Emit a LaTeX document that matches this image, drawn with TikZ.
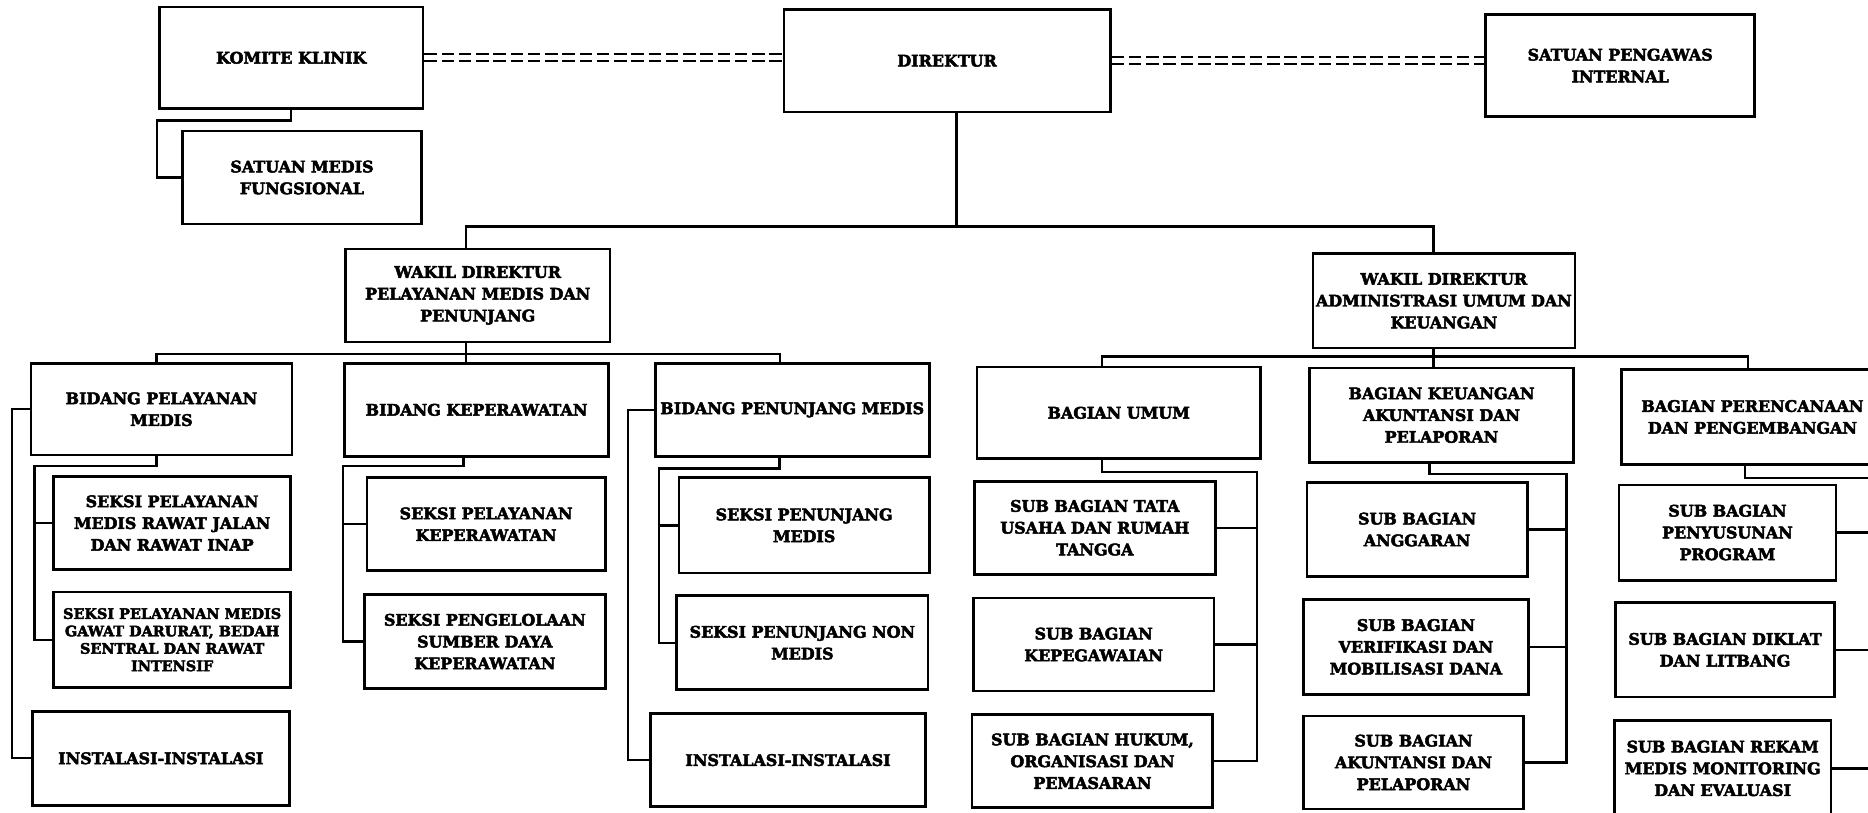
\documentclass[tikz,border=0pt]{standalone}
\usepackage{fontspec}
\setmainfont{DejaVu Serif}[BoldFeatures={FakeBold=3}]
\tikzset{sz/.style 2 args={minimum width=#1*0.025cm, minimum height=#2*0.025cm}}

\begin{document}
\begin{tikzpicture}[x=0.025cm, y=-0.025cm, line width=1.4pt]
    \tikzstyle{unit}=[draw=black, line width=1.6pt, fill=white, align=center, inner sep=1pt, font=\bfseries\fontsize{9.5}{13}\selectfont]
    \tikzstyle{tiny}=[font=\bfseries\fontsize{8.6}{10.4}\selectfont]
    \tikzstyle{link}=[double, line width=1.1pt, double distance=3pt, dash pattern=on 7.5pt off 2.8pt]

    \useasboundingbox (0,0) rectangle (1568,682);
    \clip (0,0) rectangle (1568,682);

    % top level
    \node[unit, sz={221}{85}] (kk)  at (244.5,48.5) {KOMITE KLINIK};
    \node[unit, sz={201}{78}] (smf) at (253.5,149)  {SATUAN MEDIS\\FUNGSIONAL};
    \node[unit, sz={274}{86}] (dir) at (795,51)     {DIREKTUR};
    \node[unit, sz={226}{86}] (spi) at (1360,55)    {SATUAN PENGAWAS\\INTERNAL};

    \node[unit, sz={222}{78}] (wpel) at (401,248)    {WAKIL DIREKTUR\\PELAYANAN MEDIS DAN\\PENUNJANG};
    \node[unit, sz={220}{79}] (wadm) at (1212,252.5) {WAKIL DIREKTUR\\ADMINISTRASI UMUM DAN\\KEUANGAN};

    % bidang / bagian
    \node[unit, sz={219}{77}] (b1) at (135.5,343.5) {BIDANG PELAYANAN\\MEDIS};
    \node[unit, sz={222}{78}] (b2) at (400,344)     {BIDANG KEPERAWATAN};
    \node[unit, sz={230}{78}] (b3) at (665,344)     {BIDANG PENUNJANG MEDIS};
    \node[unit, sz={238}{77}] (b4) at (939,346.5)   {BAGIAN UMUM};
    \node[unit, sz={222}{79}] (b5) at (1210,348.5)  {BAGIAN KEUANGAN\\AKUNTANSI DAN\\PELAPORAN};
    \node[unit, sz={220}{80}] (b6) at (1471,350)    {BAGIAN PERENCANAAN\\DAN PENGEMBANGAN};

    % seksi / sub bagian
    \node[unit, sz={199}{78}] (s11) at (144.5,439) {SEKSI PELAYANAN\\MEDIS RAWAT JALAN\\DAN RAWAT INAP};
    \node[unit, tiny, sz={199}{80}] (s12) at (144.5,537) {SEKSI PELAYANAN MEDIS\\GAWAT DARURAT, BEDAH\\SENTRAL DAN RAWAT\\INTENSIF};
    \node[unit, sz={216}{79}] (i1)  at (135,636.5) {INSTALASI-INSTALASI};

    \node[unit, sz={200}{78}] (s21) at (408,440)   {SEKSI PELAYANAN\\KEPERAWATAN};
    \node[unit, sz={202}{79}] (s22) at (407,538.5) {SEKSI PENGELOLAAN\\SUMBER DAYA\\KEPERAWATAN};

    \node[unit, sz={210}{80}] (s31) at (675,441)   {SEKSI PENUNJANG\\MEDIS};
    \node[unit, sz={211}{79}] (s32) at (673.5,539.5) {SEKSI PENUNJANG NON\\MEDIS};
    \node[unit, sz={231}{78}] (i3)  at (661.5,638) {INSTALASI-INSTALASI};

    \node[unit, sz={202}{78}] (s41) at (919,443) {SUB BAGIAN TATA\\USAHA DAN RUMAH\\TANGGA};
    \node[unit, sz={202}{78}] (s42) at (918,541) {SUB BAGIAN\\KEPEGAWAIAN};
    \node[unit, sz={202}{78}] (s43) at (917,639) {SUB BAGIAN HUKUM,\\ORGANISASI DAN\\PEMASARAN};

    \node[unit, sz={185}{79}] (s51) at (1189.5,444.5) {SUB BAGIAN\\ANGGARAN};
    \node[unit, sz={189}{80}] (s52) at (1188.5,543)   {SUB BAGIAN\\VERIFIKASI DAN\\MOBILISASI DANA};
    \node[unit, sz={185}{78}] (s53) at (1186.5,640)   {SUB BAGIAN\\AKUNTANSI DAN\\PELAPORAN};

    \node[unit, sz={182}{80}] (s61) at (1450,447)   {SUB BAGIAN\\PENYUSUNAN\\PROGRAM};
    \node[unit, sz={184}{79}] (s62) at (1448,545.5) {SUB BAGIAN DIKLAT\\DAN LITBANG};
    \node[unit, sz={182}{80}] (s63) at (1446,645)   {SUB BAGIAN REKAM\\MEDIS MONITORING\\DAN EVALUASI};

    % rails
    \coordinate (r1o) at (10,0);
    \coordinate (r1)  at (29,0);
    \coordinate (r2)  at (288,0);
    \coordinate (r3o) at (527,0);
    \coordinate (r3)  at (553,0);
    \coordinate (r4)  at (1055,0);
    \coordinate (r5)  at (1315,0);
    \coordinate (r6)  at (1600,0);

    % coordination lines
    \draw[link] (kk.east) -- (kk.east -| dir.west);
    \draw[link] (dir.east) -- (dir.east -| spi.west);
    \draw (kk.south) -- ++(0,9) -| ([xshift=-0.5cm]smf.west) -- (smf.west);

    % command lines
    \draw ([xshift=0.2cm]dir.south) -- ++(0,95) coordinate (j0);
    \draw ([xshift=-0.25cm]wpel.north) |- (j0) -| ([xshift=-0.22cm]wadm.north);

    \draw ([xshift=-0.25cm]wpel.south) -- ++(0,9) coordinate (j1);
    \draw ([xshift=-0.1cm]b1.north) |- (j1) -| ([xshift=-0.25cm]b3.north);
    \draw (j1) -- (j1 |- b2.north);

    \draw ([xshift=-0.22cm]wadm.south) -- ++(0,6) coordinate (j2);
    \draw ([xshift=-0.35cm]b4.north) |- (j2) -| ([xshift=-0.1cm]b6.north);
    \draw (j2) -- (j2 |- b5.north);

    \draw ([xshift=-0.1cm]b1.south) -- ++(0,8) -| (r1 |- s12.west) -- (s12.west);
    \draw (r1 |- s11.west) -- (s11.west);
    \draw (b1.west) -| (r1o |- i1.west) -- (i1.west);

    \draw ([xshift=-0.27cm]b2.south) -- ++(0,7) -| (r2 |- s22.west) -- (s22.west);
    \draw (r2 |- s21.west) -- (s21.west);

    \draw ([xshift=-0.27cm]b3.south) -- ++(0,9) -| (r3 |- s32.west) -- (s32.west);
    \draw (r3 |- s31.west) -- (s31.west);
    \draw (b3.west) -| (r3o |- i3.west) -- (i3.west);

    \draw ([xshift=-0.35cm]b4.south) -- ++(0,10) -| (r4 |- s43.east) -- (s43.east);
    \draw (s41.east) -- (s41.east -| r4);
    \draw (s42.east) -- (s42.east -| r4);

    \draw ([xshift=-0.25cm]b5.south) -- ++(0,9) -| (r5 |- s53.east) -- (s53.east);
    \draw (s51.east) -- (s51.east -| r5);
    \draw (s52.east) -- (s52.east -| r5);

    \draw ([xshift=-0.15cm]b6.south) -- ++(0,10) -| (r6 |- s63.east) -- (s63.east);
    \draw (s61.east) -- (s61.east -| r6);
    \draw (s62.east) -- (s62.east -| r6);
\end{tikzpicture}
\end{document}
